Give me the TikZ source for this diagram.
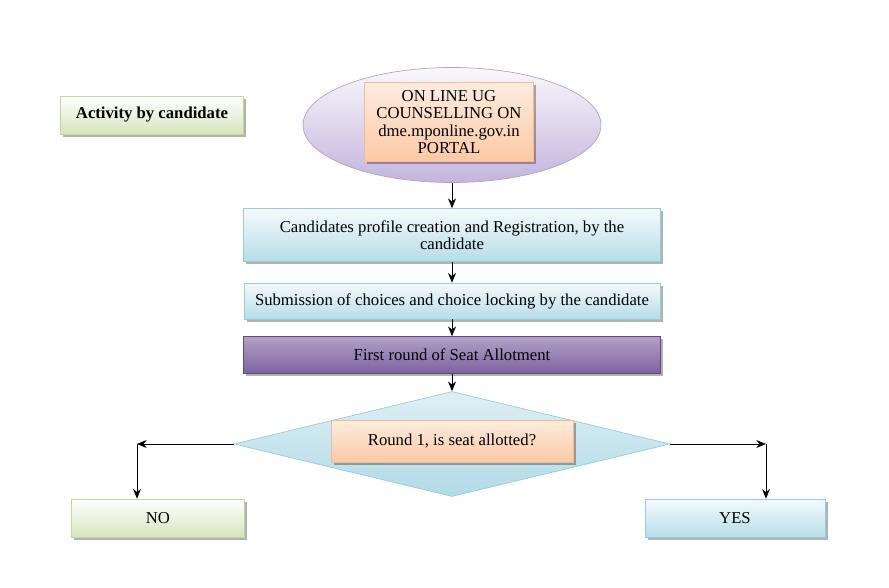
\documentclass[tikz,border=0pt]{standalone}
\usepackage{fontspec}
\setmainfont{Liberation Serif}
\usepackage{tikz}
\usetikzlibrary{arrows.meta,positioning,shapes.geometric,shadows}
\definecolor{grnline}{HTML}{C3D69B}
\definecolor{grnfill}{HTML}{D7E4BD}
\definecolor{lavline}{HTML}{B3A2C7}
\definecolor{lavfill}{HTML}{C4B4DC}
\definecolor{orgline}{HTML}{F9B98C}
\definecolor{orgfill}{HTML}{FBC9A4}
\definecolor{bluline}{HTML}{93CDDD}
\definecolor{blufill}{HTML}{B7DDE8}
\definecolor{purline}{HTML}{604A7B}
\definecolor{purfill}{HTML}{7E62A0}

\begin{document}
\begin{tikzpicture}[
    x=0.02cm, y=-0.02cm,
    font=\fontsize{9.5}{9.9}\selectfont,
    shade/.style={drop shadow={shadow xshift=1.5pt, shadow yshift=-1.5pt, fill=black, opacity=0.3}},
    greenbox/.style={rectangle, draw=grnline, top color=white, bottom color=grnfill, shade,
        minimum height=0.76cm, align=center},
    bluebox/.style={rectangle, draw=bluline, top color=white!85!blufill, bottom color=blufill, shade,
        align=center},
    orangebox/.style={rectangle, draw=orgline, top color=orgfill!35, bottom color=orgfill, shade,
        align=center},
    flow/.style={-{Stealth[length=5.5pt,width=4.5pt]}, thin, black}
]
\useasboundingbox (0,0) rectangle (889,588);

% start of the flow
\node[greenbox, minimum width=3.66cm, font=\fontsize{9.5}{9.9}\selectfont\bfseries] (activity) at (152,115) {Activity by candidate};
\node[ellipse, draw=lavline, top color=white!90!lavfill, bottom color=lavfill,
    minimum width=5.96cm, minimum height=2.3cm] (portal) at (452,125) {};
\node[orangebox, minimum width=3.38cm, minimum height=1.58cm] (portaltext) at (449,122)
    {ON LINE UG\\COUNSELLING ON\\dme.mponline.gov.in\\PORTAL};

% steps
\node[bluebox, minimum width=8.34cm, minimum height=1.06cm] (register) at (452,235)
    {Candidates profile creation and Registration, by the\\candidate};
\node[bluebox, minimum width=8.32cm, minimum height=0.72cm] (choices) at (452,301)
    {Submission of choices and choice locking by the candidate};
\node[rectangle, draw=purline, top color=purfill!60, bottom color=purfill, shade,
    minimum width=8.34cm, minimum height=0.74cm] (allot) at (452,355) {First round of Seat Allotment};

% decision
\node[diamond, draw=bluline, top color=blufill!45, bottom color=blufill!85!bluline,
    minimum width=8.72cm, minimum height=2.1cm, inner sep=0pt] (decide) at (452,444) {};
\node[orangebox, minimum width=4.84cm, minimum height=0.84cm] (question) at (452,441)
    {Round 1, is seat allotted?};
\node[greenbox, minimum width=3.46cm] (no) at (158,518) {NO};
\node[bluebox, minimum width=3.6cm, minimum height=0.76cm] (yes) at (735,518) {YES};
\coordinate (nobend) at (137,444);
\coordinate (yesbend) at (766,444);

% arrows
\draw[flow] (portal) -- (register);
\draw[flow] (register) -- (choices);
\draw[flow] (choices) -- (allot);
\draw[flow] (allot) -- (decide);
\draw[flow] (decide.west) -- (nobend);
\draw[flow] (nobend) -- (no.north -| nobend);
\draw[flow] (decide.east) -- (yesbend);
\draw[flow] (yesbend) -- (yes.north -| yesbend);

\end{tikzpicture}
\end{document}
